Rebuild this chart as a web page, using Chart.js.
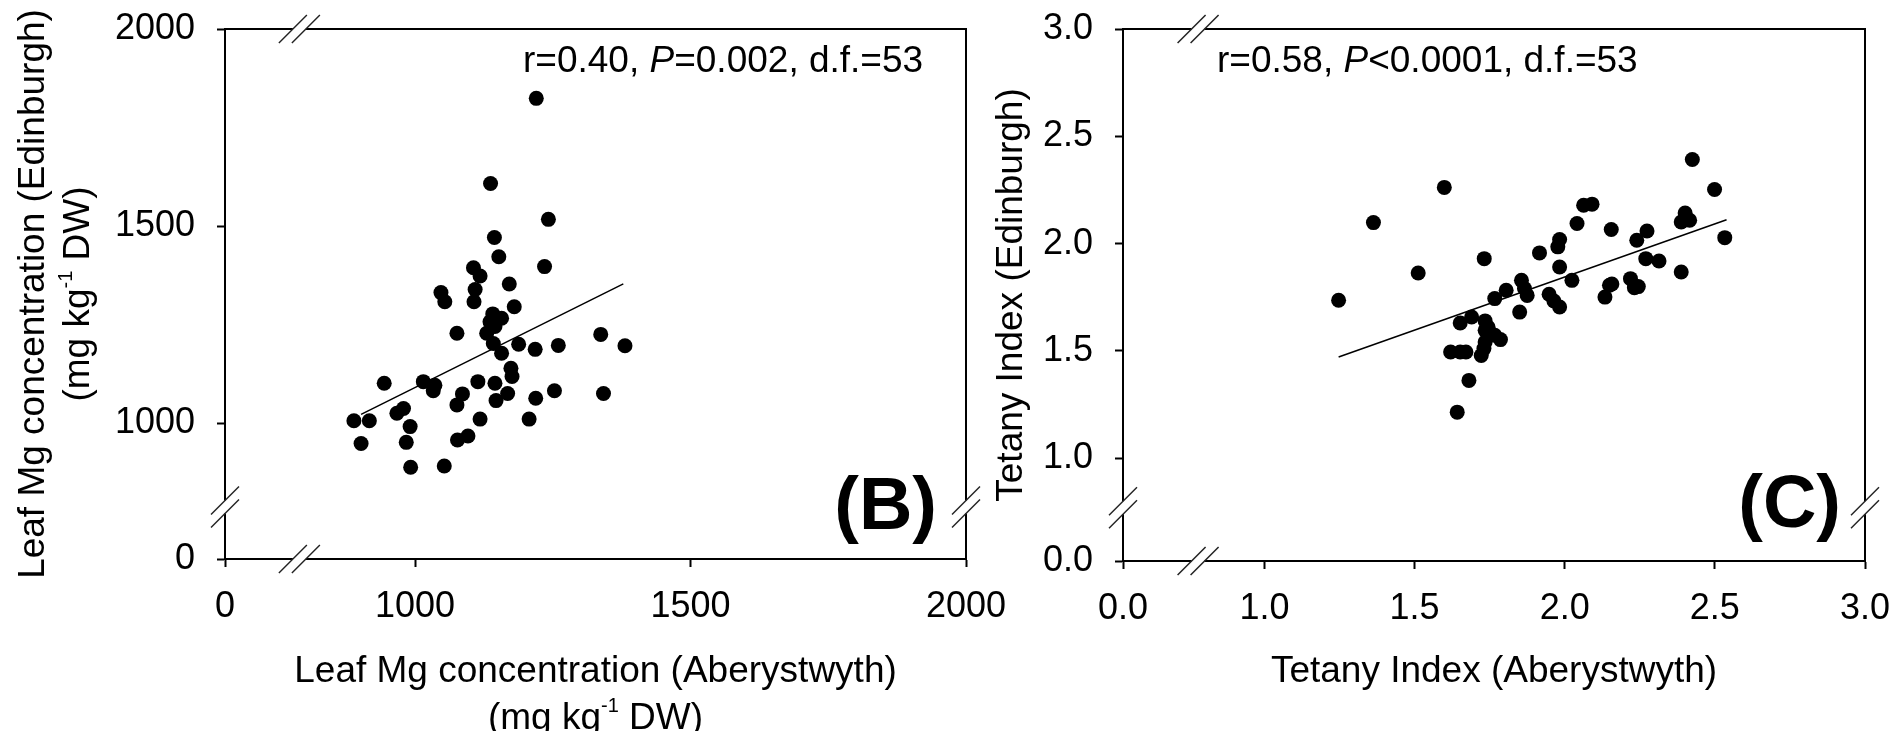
<!DOCTYPE html>
<html>
<head>
<meta charset="utf-8">
<script src="https://cdn.jsdelivr.net/npm/chart.js@4/dist/chart.umd.min.js"></script>
<style>
  html, body { margin: 0; padding: 0; background: #fff; }
  #wrap { position: relative; width: 1895px; height: 731px; overflow: hidden; background: #fff; }
  #wrap canvas { position: absolute; }
  #panelB { left: 0; top: -40px; }
  #panelC { left: 990px; top: -40px; }
</style>
</head>
<body>
<div id="wrap">
  <canvas id="panelB" width="1026" height="771"></canvas>
  <canvas id="panelC" width="935" height="771"></canvas>
</div>
<script>
// ---- Panel B: leaf Mg concentration (mg kg-1 DW), Aberystwyth vs Edinburgh ----
const mgAberystwyth = [1220, 1137, 1242, 1144, 1152, 1235, 1106, 1118, 1171, 1109,
  1047, 1054, 1107, 1180, 1141, 1157, 1136, 1145, 1130, 1076,
  1142, 1188, 1260, 1337, 1381, 1218, 1157, 1174, 1176, 1114,
  1145, 1015, 1036, 1033, 944, 1168, 1147, 1086, 1076, 1253,
  1219, 1342, 979, 967, 889, 917, 991, 1118, 1207, 902,
  984, 1077, 1096, 992, 1053];
const mgEdinburgh = [1824, 1608, 1517, 1471, 1422, 1397, 1394, 1373, 1353, 1339,
  1331, 1308, 1308, 1295, 1277, 1266, 1257, 1245, 1228, 1228,
  1202, 1200, 1197, 1225, 1196, 1187, 1177, 1139, 1118, 1105,
  1101, 1105, 1096, 1082, 1101, 1075, 1057, 1074, 1046, 1082,
  1063, 1075, 1037, 1025, 1006, 1006, 991, 1010, 1010, 948,
  951, 957, 967, 888, 891];
const mgFitX = [902, 1378];
const mgFitY = [1022, 1353];
const mgTicks = [1000, 1500, 2000];
const mgTickLabels = ['0', '1000', '1500', '2000'];
const mgAxisStart = 655;   // value at which the broken axis shows "0"
const mgBreakX = 790;
const mgBreakY = 787;

// ---- Panel C: tetany index, Aberystwyth vs Edinburgh ----
const tiAberystwyth = [2.425, 1.599, 1.363, 2.499, 2.063, 2.091, 2.041, 2.401, 2.388, 2.416,
  2.155, 2.274, 2.533, 2.240, 1.983, 1.977, 1.512, 1.732, 1.916, 1.247,
  1.983, 2.024, 2.270, 2.314, 2.388, 2.149, 2.134, 2.219, 2.232, 1.856,
  1.866, 1.875, 1.805, 1.767, 1.948, 1.964, 1.983, 1.850, 1.690, 1.652,
  1.735, 1.735, 1.767, 1.786, 1.735, 1.620, 1.652, 1.671, 1.722, 1.731,
  1.681, 1.642, 2.157, 1.745, 2.245];
const tiEdinburgh = [2.392, 2.262, 2.098, 2.252, 2.179, 2.184, 2.094, 2.143, 2.101, 2.109,
  2.066, 2.059, 2.028, 2.016, 2.019, 1.985, 1.863, 1.930, 1.957, 1.736,
  1.891, 1.829, 1.930, 1.919, 1.868, 1.806, 1.751, 1.837, 1.795, 1.829,
  1.791, 1.759, 1.783, 1.744, 1.764, 1.733, 1.705, 1.681, 1.658, 1.630,
  1.640, 1.596, 1.573, 1.553, 1.542, 1.495, 1.495, 1.495, 1.479, 1.511,
  1.363, 1.215, 1.812, 1.610, 1.800];
const tiFitX = [1.247, 2.539];
const tiFitY = [1.472, 2.111];
const tiTicks = [1.0, 1.5, 2.0, 2.5, 3.0];
const tiTickLabels = ['0.0', '1.0', '1.5', '2.0', '2.5', '3.0'];
const tiAxisStartX = 0.529;
const tiAxisStartY = 0.5215;
const tiBreakX = 0.779;
const tiBreakY = 0.770;

// ---- drawing helpers ----
const FONT = '"Liberation Sans", Arial, Helvetica, sans-serif';
const font = (size, style) => (style ? style + ' ' : '') + size + 'px ' + FONT;

// text runs: [text, size, style, rise]
function runsWidth(ctx, runs) {
  let w = 0;
  for (const r of runs) { ctx.font = font(r[1], r[2]); w += ctx.measureText(r[0]).width; }
  return w;
}
function drawRuns(ctx, runs, x, y, align) {
  const w = runsWidth(ctx, runs);
  let cx = align === 'center' ? x - w / 2 : align === 'right' ? x - w : x;
  ctx.textAlign = 'left';
  ctx.textBaseline = 'alphabetic';
  for (const r of runs) {
    ctx.font = font(r[1], r[2]);
    ctx.fillText(r[0], cx, y - (r[3] || 0));
    cx += ctx.measureText(r[0]).width;
  }
}
function slash(ctx, cx, cy) {
  ctx.beginPath();
  ctx.moveTo(cx - 14, cy + 14);
  ctx.lineTo(cx + 14, cy - 14);
  ctx.stroke();
}
function breakOnHorizontal(ctx, x, y) {
  ctx.fillStyle = '#fff';
  ctx.fillRect(x - 6.5, y - 2, 13, 4);
  slash(ctx, x - 6.5, y);
  slash(ctx, x + 6.5, y);
}
function breakOnVertical(ctx, x, y) {
  ctx.fillStyle = '#fff';
  ctx.fillRect(x - 2, y - 6.5, 4, 13);
  slash(ctx, x, y - 6.5);
  slash(ctx, x, y + 6.5);
}

// frame, axis breaks, titles and annotations for one panel
const panelDecor = {
  id: 'panelDecor',
  afterDraw(chart, args, o) {
    const { ctx, chartArea: a, scales } = chart;
    const xs = scales.x, ys = scales.y;
    ctx.save();
    ctx.strokeStyle = '#000';
    ctx.lineWidth = 2;
    ctx.beginPath();
    ctx.moveTo(a.left, a.top);
    ctx.lineTo(a.right, a.top);
    ctx.lineTo(a.right, a.bottom);
    ctx.stroke();

    const bx = xs.getPixelForValue(o.xBreak);
    const by = ys.getPixelForValue(o.yBreak);
    ctx.strokeStyle = '#222';
    ctx.lineWidth = 1.5;
    breakOnHorizontal(ctx, bx, a.top);
    breakOnHorizontal(ctx, bx, a.bottom);
    breakOnVertical(ctx, a.left, by);
    breakOnVertical(ctx, a.right, by);

    ctx.fillStyle = '#000';
    const cxMid = (a.left + a.right) / 2;
    const cyMid = (a.top + a.bottom) / 2;
    // text positions below are given in page coordinates
    ctx.translate(-o.origin[0], -o.origin[1]);
    const px = cxMid + o.origin[0];
    const py = cyMid + o.origin[1];
    o.xTitle.forEach((runs, i) => drawRuns(ctx, runs, px, o.xTitleBase[i], 'center'));
    o.yTitle.forEach((runs, i) => {
      ctx.save();
      ctx.translate(o.yTitleBase[i], py);
      ctx.rotate(-Math.PI / 2);
      drawRuns(ctx, runs, 0, 0, 'center');
      ctx.restore();
    });
    drawRuns(ctx, o.stats, o.statsPos[0], o.statsPos[1], 'left');
    drawRuns(ctx, [[o.letter, 74, 'bold']], o.letterPos[0], o.letterPos[1], 'right');
    ctx.restore();
  }
};

function axisConfig(start, end, values, labels, padding, fitProp, fitSize) {
  return {
    type: 'linear',
    min: start,
    max: end,
    afterBuildTicks: s => { s.ticks = [start, ...values].map(v => ({ value: v })); },
    afterFit: s => { s[fitProp] = fitSize; },
    ticks: {
      callback: (v, i) => labels[i],
      font: { size: 36, family: FONT },
      color: '#000',
      padding: padding,
      autoSkip: false,
      maxRotation: 0,
      minRotation: 0
    },
    grid: {
      display: true,
      drawOnChartArea: false,
      drawTicks: true,
      tickLength: 8,
      tickWidth: 2,
      tickColor: '#000'
    },
    border: { display: true, color: '#000', width: 2 }
  };
}

function makePanel(canvasId, xs, ys, fitX, fitY, xAxis, yAxis, padding, decor) {
  return new Chart(document.getElementById(canvasId), {
    type: 'scatter',
    data: {
      datasets: [
        {
          data: xs.map((v, i) => ({ x: v, y: ys[i] })),
          pointRadius: 7.5,
          pointHoverRadius: 7.5,
          pointBackgroundColor: '#000',
          pointBorderWidth: 0,
          pointStyle: 'circle'
        },
        {
          data: fitX.map((v, i) => ({ x: v, y: fitY[i] })),
          showLine: true,
          borderColor: '#000',
          borderWidth: 1.5,
          pointRadius: 0,
          fill: false
        }
      ]
    },
    options: {
      responsive: false,
      devicePixelRatio: 1,
      animation: false,
      events: [],
      layout: { padding: padding },
      plugins: { legend: { display: false }, tooltip: { enabled: false }, panelDecor: decor },
      scales: { x: xAxis, y: yAxis }
    },
    plugins: [panelDecor]
  });
}

// canvas B sits at page (0, -40); plot area spans page x 225..966, y 29..559
makePanel('panelB', mgAberystwyth, mgEdinburgh, mgFitX, mgFitY,
  axisConfig(mgAxisStart, 2000, mgTicks, mgTickLabels, 18, 'height', 172),
  axisConfig(mgAxisStart, 2000, mgTicks, mgTickLabels, 22, 'width', 225),
  { left: 0, top: 69, right: 60, bottom: 0 },
  {
    origin: [0, -40],
    xBreak: mgBreakX, yBreak: mgBreakY,
    xTitle: [
      [['Leaf Mg concentration (Aberystwyth)', 37]],
      [['(mg kg', 37], ['-1', 20, '', 17], [' DW)', 37]]
    ],
    xTitleBase: [682, 729],
    yTitle: [
      [['Leaf Mg concentration (Edinburgh)', 37]],
      [['(mg kg', 37], ['-1', 20, '', 17], [' DW)', 37]]
    ],
    yTitleBase: [44, 89],
    stats: [['r=0.40, ', 37], ['P', 37, 'italic'], ['=0.002, d.f.=53', 37]],
    statsPos: [523, 72],
    letter: '(B)',
    letterPos: [937, 529]
  });

// canvas C sits at page (990, -40); plot area spans page x 1123..1865, y 29..561
makePanel('panelC', tiAberystwyth, tiEdinburgh, tiFitX, tiFitY,
  axisConfig(tiAxisStartX, 3.0, tiTicks, tiTickLabels, 18, 'height', 170),
  axisConfig(tiAxisStartY, 3.0, tiTicks, tiTickLabels, 22, 'width', 133),
  { left: 0, top: 69, right: 60, bottom: 0 },
  {
    origin: [990, -40],
    xBreak: tiBreakX, yBreak: tiBreakY,
    xTitle: [[['Tetany Index (Aberystwyth)', 37]]],
    xTitleBase: [682],
    yTitle: [[['Tetany Index (Edinburgh)', 37]]],
    yTitleBase: [1022],
    stats: [['r=0.58, ', 37], ['P', 37, 'italic'], ['<0.0001, d.f.=53', 37]],
    statsPos: [1217, 72],
    letter: '(C)',
    letterPos: [1841, 527]
  });
</script>
</body>
</html>
